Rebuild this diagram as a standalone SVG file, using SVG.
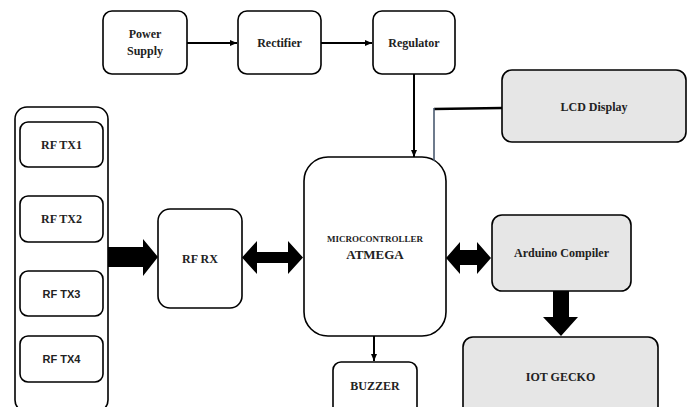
<svg xmlns="http://www.w3.org/2000/svg" width="690" height="407" viewBox="0 0 690 407">
<defs>
<style>
.box{fill:#fff;stroke:#000;stroke-width:1.6}
.gray{fill:#e6e6e6;stroke:#000;stroke-width:1.6}
.t{font-family:"Liberation Serif","Times New Roman",serif;font-weight:bold;font-size:12px;fill:#222;text-anchor:middle}
.s{font-family:"Liberation Sans",Arial,sans-serif;font-weight:bold;font-size:11px;fill:#222;text-anchor:middle}
.ln{stroke:#000;stroke-width:2;fill:none}
.fat{fill:#000}
</style>
<marker id="ah" markerWidth="8" markerHeight="8" refX="7" refY="4" orient="auto" markerUnits="userSpaceOnUse">
<path d="M0,1 L7,4 L0,7 Z" fill="#000"/>
</marker>
</defs>
<rect width="690" height="407" fill="#fff"/>

<g id="power-supply"><rect class="box" x="103" y="11" width="84" height="63" rx="9"/><text class="t" x="145" y="38">Power</text><text class="t" x="145" y="55">Supply</text></g>
<g id="rectifier"><rect class="box" x="238" y="11" width="83" height="63" rx="9"/><text class="t" x="279.5" y="47">Rectifier</text></g>
<g id="regulator"><rect class="box" x="373" y="11" width="82" height="63" rx="9"/><text class="t" x="414" y="47">Regulator</text></g>
<g id="lcd"><rect class="gray" x="502" y="70" width="184" height="72" rx="10"/><text class="t" x="594" y="111">LCD Display</text></g>

<g id="rf-tx-group"><rect class="box" x="15" y="107" width="93" height="305" rx="12"/></g>
<g id="rf-tx1"><rect class="box" x="20" y="122" width="83" height="45" rx="8"/><text class="t" x="61.5" y="149">RF TX1</text></g>
<g id="rf-tx2"><rect class="box" x="20" y="196" width="83" height="46" rx="8"/><text class="t" x="61.5" y="223">RF TX2</text></g>
<g id="rf-tx3"><rect class="box" x="20" y="271" width="83" height="45" rx="8"/><text class="s" x="61.5" y="298">RF TX3</text></g>
<g id="rf-tx4"><rect class="box" x="20" y="336" width="83" height="46" rx="8"/><text class="s" x="61.5" y="363">RF TX4</text></g>

<g id="rf-rx"><rect class="box" x="158" y="209" width="84" height="99" rx="12"/><text class="t" x="200" y="263">RF RX</text></g>

<g id="microcontroller"><rect class="box" x="304" y="157" width="142" height="179" rx="24"/><text class="t" x="375" y="242" style="font-size:9px">MICROCONTROLLER</text><text class="t" x="375" y="259" style="font-size:13px">ATMEGA</text></g>

<g id="arduino"><rect class="gray" x="492" y="215" width="139" height="76" rx="10"/><text class="t" x="561.5" y="257">Arduino Compiler</text></g>
<g id="iot-gecko"><rect class="gray" x="463" y="337" width="195" height="80" rx="10"/><text class="t" x="560.5" y="381">IOT GECKO</text></g>
<g id="buzzer"><rect class="box" x="333" y="362" width="84" height="55" rx="8"/><text class="t" x="375" y="390">BUZZER</text></g>

<g id="connectors">
<line class="ln" x1="187" y1="43" x2="237" y2="43" marker-end="url(#ah)"/>
<line class="ln" x1="321" y1="43" x2="372" y2="43" marker-end="url(#ah)"/>
<line class="ln" x1="414" y1="74" x2="414" y2="157" marker-end="url(#ah)"/>
<polyline points="502,108 434,109" fill="none" stroke="#000" stroke-width="2.5"/>
<line x1="434" y1="108" x2="434" y2="161" stroke="#4a5a70" stroke-width="1.6"/>
<line class="ln" x1="374" y1="336" x2="374" y2="361" marker-end="url(#ah)"/>
<path class="fat" d="M108,247 L143,247 L143,239 L158,257 L143,276 L143,267 L108,267 Z"/>
<path class="fat" d="M242,257.5 L257,241 L257,252 L288,252 L288,241 L303,257.5 L288,274 L288,263 L257,263 L257,274 Z"/>
<path class="fat" d="M446,258 L460,242 L460,250 L477,250 L477,242 L491,258 L477,274 L477,265 L460,265 L460,274 Z"/>
<path class="fat" d="M553,291 L569,291 L569,317 L578,317 L561,336 L543,317 L553,317 Z"/>
</g>
</svg>
